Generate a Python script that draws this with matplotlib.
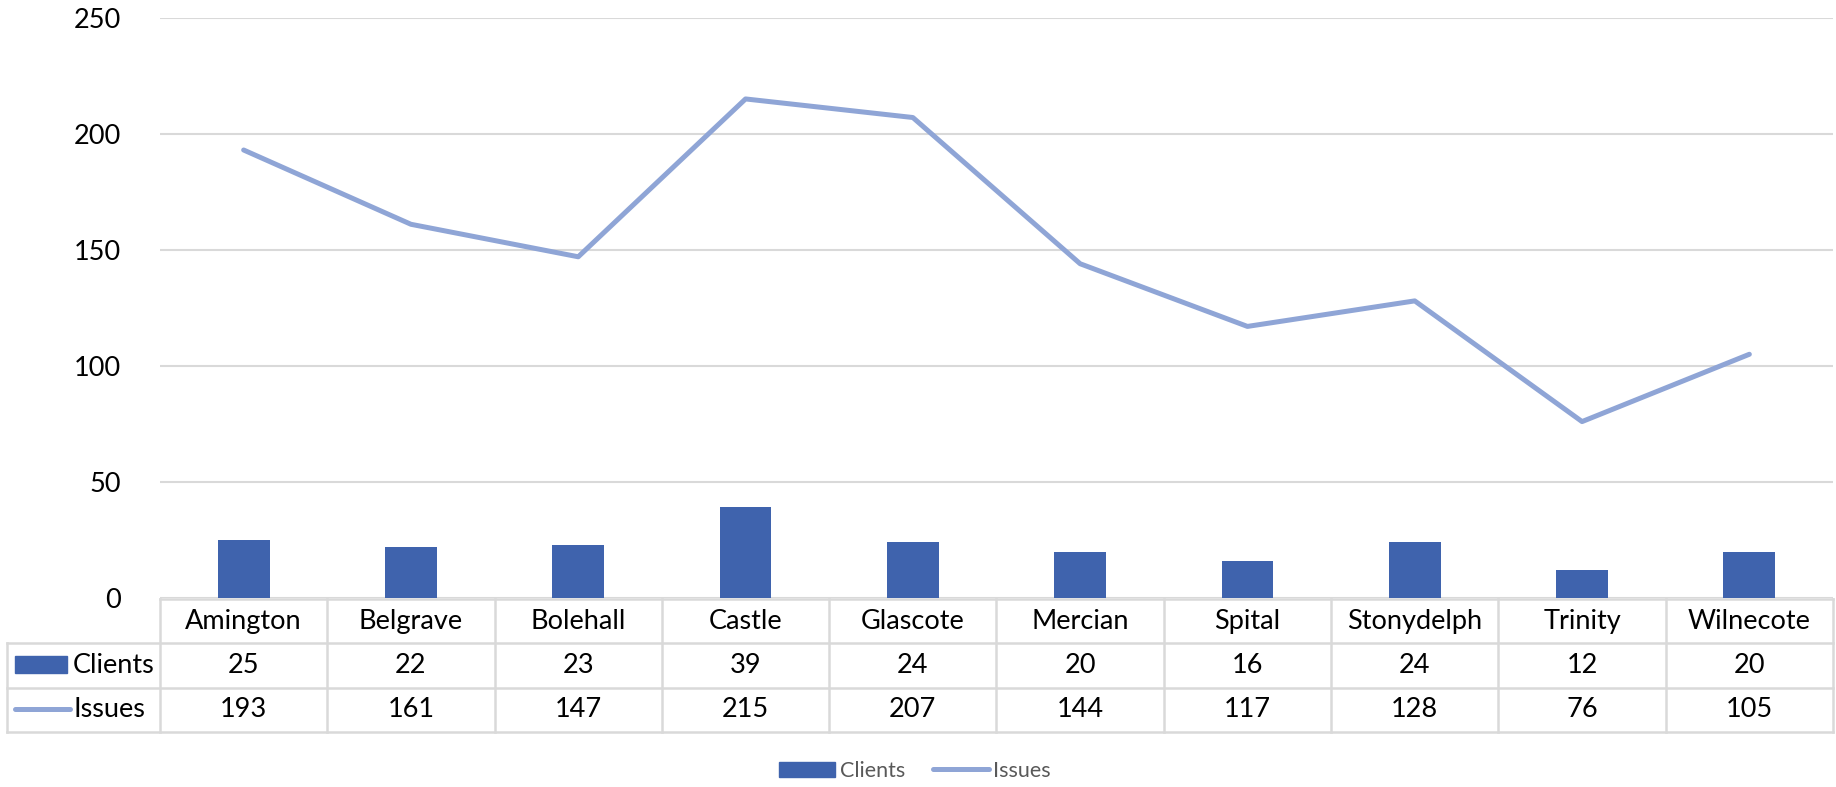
import numpy as np
import matplotlib.pyplot as plt
from matplotlib.patches import Rectangle
from matplotlib.lines import Line2D

wards = ["Amington", "Belgrave", "Bolehall", "Castle", "Glascote",
         "Mercian", "Spital", "Stonydelph", "Trinity", "Wilnecote"]
clients = [25, 22, 23, 39, 24, 20, 16, 24, 12, 20]
issues = [193, 161, 147, 215, 207, 144, 117, 128, 76, 105]
y_ticks = [0, 50, 100, 150, 200, 250]

bar_col = "#3F63AD"
line_col = "#8FA5D6"
grid_col = "#D9D9D9"
fs = 19.5
lw = 3.6
plt.rcParams['font.family'] = ['Lato', 'DejaVu Sans']

W, H = 1836, 787
fig = plt.figure(figsize=(W / 100, H / 100), dpi=100)

def px_box(x0, y0, x1, y1):
    return [x0 / W, 1 - y1 / H, (x1 - x0) / W, (y1 - y0) / H]

ax = fig.add_axes(px_box(160, 17.7, 1833, 598))
x = np.arange(len(wards))
ax.bar(x, clients, width=0.31, color=bar_col, zorder=2)
ax.plot(x, issues, color=line_col, lw=lw, solid_capstyle='round', zorder=3)
ax.set_xlim(-0.5, len(wards) - 0.5)
ax.set_ylim(0, 250)
ax.set_yticks(y_ticks)
ax.tick_params(axis='y', length=0, pad=28, labelsize=fs)
ax.set_xticks([])
ax.grid(axis='y', color=grid_col, lw=1.5, zorder=0)
for s in ax.spines.values():
    s.set_visible(False)

# data table below the plot
col_w = (1833 - 160) / len(wards)
left_x = -0.5 - (160 - 7) / col_w
tax = fig.add_axes(px_box(7, 599, 1833, 732))
tax.set_xlim(left_x, len(wards) - 0.5)
tax.set_ylim(3, 0)
tax.axis('off')
lk = dict(color=grid_col, lw=1.8, clip_on=False)
tax.plot([-0.5, len(wards) - 0.5], [0, 0], **lk)
for r in [1, 2, 3]:
    tax.plot([left_x, len(wards) - 0.5], [r, r], **lk)
tax.plot([left_x, left_x], [1, 3], **lk)
for b in np.arange(-0.5, len(wards)):
    tax.plot([b, b], [0, 3], **lk)
for i, w in enumerate(wards):
    tax.text(i, 0.5, w, ha='center', va='center', fontsize=fs)
    tax.text(i, 1.5, str(clients[i]), ha='center', va='center', fontsize=fs)
    tax.text(i, 2.5, str(issues[i]), ha='center', va='center', fontsize=fs)

kx0 = left_x + 8 / col_w
tax.add_patch(Rectangle((kx0, 1.29), 52 / col_w, 0.38, color=bar_col, clip_on=False))
tax.plot([kx0, kx0 + 55 / col_w], [2.47, 2.47], color=line_col, lw=lw,
         solid_capstyle='round', clip_on=False)
tax.text(left_x + 66 / col_w, 1.5, "Clients", ha='left', va='center', fontsize=fs)
tax.text(left_x + 66 / col_w, 2.5, "Issues", ha='left', va='center', fontsize=fs)

handles = [Rectangle((0, 0), 1, 1, color=bar_col),
           Line2D([0], [0], color=line_col, lw=lw, solid_capstyle='round')]
fig.legend(handles, ["Clients", "Issues"], loc='center', bbox_to_anchor=(915 / W, 1 - 771 / H),
           ncol=2, frameon=False, fontsize=15.5, labelcolor='#595959',
           handlelength=2.6, handletextpad=0.2, columnspacing=1.3)

fig.savefig("out.png", dpi=100)
